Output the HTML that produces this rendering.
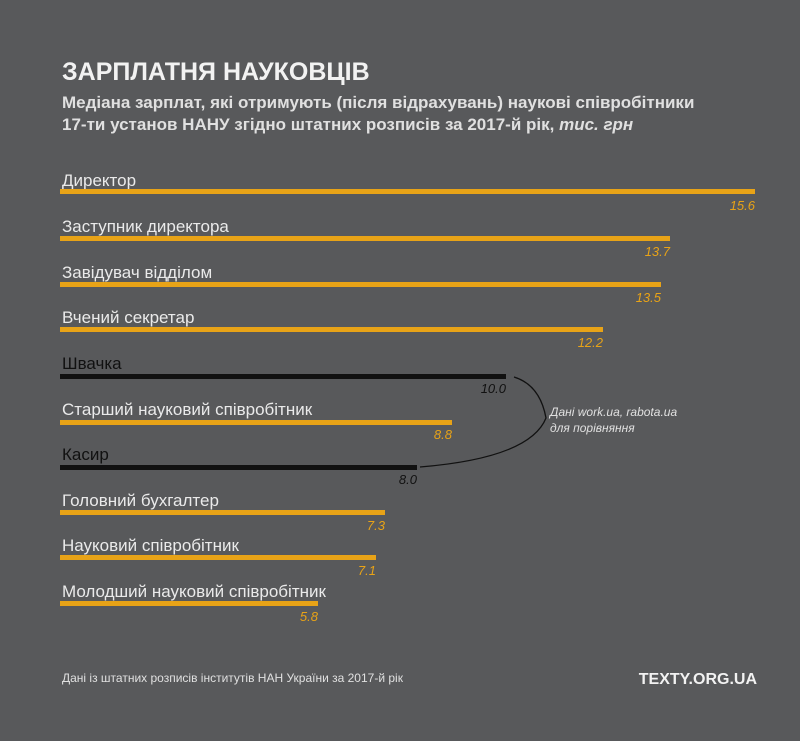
<!DOCTYPE html>
<html><head><meta charset="utf-8"><style>
body{margin:0;width:800px;height:741px;background:#58595b;font-family:"Liberation Sans",sans-serif;overflow:hidden;position:relative}
.t{position:absolute;white-space:nowrap}
</style></head><body>
<div class="t" style="left:62px;top:58px;font-size:25px;font-weight:bold;color:#f2f2f2">ЗАРПЛАТНЯ НАУКОВЦІВ</div>
<div class="t" style="left:62px;top:92px;font-size:17px;font-weight:bold;color:#e0e0e0;line-height:22px">Медіана зарплат, які отримують (після відрахувань) наукові співробітники<br>17-ти установ НАНУ згідно штатних розписів за 2017-й рік, <i>тис. грн</i></div>
<svg width="800" height="741" style="position:absolute;left:0;top:0" font-family="Liberation Sans, sans-serif">
<g font-size="17" fill="#eaeaea">
<text x="62" y="186">Директор</text>
<text x="62" y="232">Заступник директора</text>
<text x="62" y="278">Завідувач відділом</text>
<text x="62" y="323">Вчений секретар</text>
<text x="62" y="369" fill="#111">Швачка</text>
<text x="62" y="415">Старший науковий співробітник</text>
<text x="62" y="460" fill="#111">Касир</text>
<text x="62" y="506">Головний бухгалтер</text>
<text x="62" y="551">Науковий співробітник</text>
<text x="62" y="597">Молодший науковий співробітник</text>
</g>
<g fill="#e8a317">
<rect x="60" y="189" width="695" height="5"/>
<rect x="60" y="236" width="610" height="5"/>
<rect x="60" y="282" width="601" height="5"/>
<rect x="60" y="327" width="543" height="5"/>
<rect x="60" y="420" width="392" height="5"/>
<rect x="60" y="510" width="325" height="5"/>
<rect x="60" y="555" width="316" height="5"/>
<rect x="60" y="601" width="258" height="5"/>
</g>
<g fill="#111"><rect x="60" y="374" width="446" height="5"/><rect x="60" y="465" width="357" height="5"/></g>
<g font-size="13" font-style="italic" text-anchor="end" fill="#e8a317">
<text x="755" y="210">15.6</text><text x="670" y="256">13.7</text><text x="661" y="302">13.5</text><text x="603" y="347">12.2</text>
<text x="506" y="393" fill="#111">10.0</text><text x="452" y="439">8.8</text><text x="417" y="484" fill="#111">8.0</text>
<text x="385" y="530">7.3</text><text x="376" y="575">7.1</text><text x="318" y="621">5.8</text>
</g>
<path d="M514 377 Q540 385 546 418 Q530 458 420 467" fill="none" stroke="#111" stroke-width="1.3"/>
<g font-size="12" font-style="italic" fill="#e0e0e0"><text x="550" y="416">Дані work.ua, rabota.ua</text><text x="550" y="432">для порівняння</text></g>
<text x="62" y="682" font-size="12" fill="#e0e0e0">Дані із штатних розписів інститутів НАН України за 2017-й рік</text>
<text x="757" y="684" font-size="16" font-weight="bold" fill="#f2f2f2" text-anchor="end">TEXTY.ORG.UA</text>
</svg>
</body></html>
